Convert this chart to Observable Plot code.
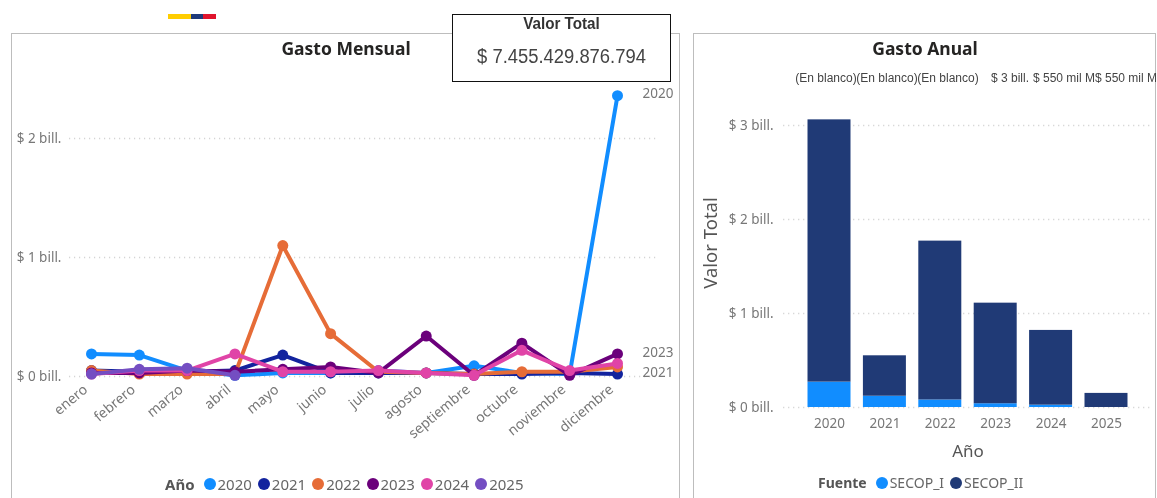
<!DOCTYPE html>
<html>
<head>
<meta charset="utf-8">
<script src="https://cdn.jsdelivr.net/npm/d3@7"></script>
<script src="https://cdn.jsdelivr.net/npm/@observablehq/plot@0.6"></script>
<style>
html,body{margin:0;padding:0;background:#fff;}
#page{position:relative;width:1157px;height:498px;overflow:hidden;font-family:"Noto Sans",sans-serif;color:#666;filter:blur(0.3px);}
#page svg{position:absolute;left:0;top:0;background:transparent;max-width:none;}
.abs{position:absolute;white-space:nowrap;}
.panel{position:absolute;border:1px solid #bdbdbd;box-sizing:border-box;}
.title{position:absolute;font-weight:700;font-size:17.5px;color:#252423;transform:translateX(-50%);white-space:nowrap;line-height:22px;}
.dl{position:absolute;top:71px;font:12px/14px "Liberation Sans",Arial,sans-serif;color:#444;transform:translateX(-50%);white-space:nowrap;}
.legend{position:absolute;display:flex;align-items:center;font-size:15px;color:#666;white-space:nowrap;line-height:20px;}
.legend b{color:#555;margin-right:9px;}
.legend i{display:inline-block;width:12px;height:12px;border-radius:50%;margin-right:2px;}
.legend span{margin-right:6px;}
#card{position:absolute;left:452px;top:14px;width:219px;height:68px;box-sizing:border-box;border:1.5px solid #111;background:#fff;text-align:center;}
#card .h{font:700 16px/18px "Liberation Sans",Arial,sans-serif;color:#333;margin-top:0;transform:scaleX(.95);}
#card .v{font:20px/26px "Liberation Sans",Arial,sans-serif;color:#444;margin-top:10px;transform:scaleX(.92);}
</style>
</head>
<body>
<div id="page"></div>
<script>
const months = ["enero","febrero","marzo","abril","mayo","junio","julio","agosto","septiembre","octubre","noviembre","diciembre"];
const years = [2020,2021,2022,2023,2024,2025];
const yearColors = ["#118DFF","#12239E","#E66C37","#6B007B","#E044A7","#744EC2"];
const gasto2020 = [0.19,0.18,0.05,0.01,0.03,0.03,0.05,0.03,0.09,0.03,0.02,2.36];
const gasto2021 = [0.05,0.04,0.04,0.05,0.18,0.03,0.03,0.03,0.02,0.02,0.03,0.02];
const gasto2022 = [0.05,0.02,0.02,0.02,1.10,0.36,0.04,0.03,0.02,0.04,0.04,0.08];
const gasto2023 = [0.03,0.03,0.05,0.04,0.06,0.08,0.03,0.34,0.01,0.28,0.01,0.19];
const gasto2024 = [0.02,0.05,0.05,0.19,0.04,0.04,0.05,0.03,0.01,0.22,0.05,0.11];
const gasto2025 = [0.02,0.06,0.07,0.01];
const gastoPorAnio = [gasto2020,gasto2021,gasto2022,gasto2023,gasto2024,gasto2025];
const endLabelYears = [2020,2021,2023];
const endLabelValues = [2.375,0.03,0.20];

const fuentes = ["SECOP_I","SECOP_II"];
const fuenteColors = ["#118DFF","#203A76"];
const secopI  = [0.27,0.12,0.08,0.04,0.025,0.0];
const secopII = [2.79,0.43,1.69,1.07,0.795,0.15];
const blancos = ["(En blanco)","(En blanco)","(En blanco)","$ 3 bill.","$ 550 mil M","$ 550 mil M"];
const billFmt = d => "$ " + d + " bill.";

const page = document.getElementById("page");
const gray = "#777";
const font = '"Noto Sans",sans-serif';

function add(html){const t=document.createElement("template");t.innerHTML=html.trim();const n=t.content.firstChild;page.appendChild(n);return n;}

add('<div class="panel" style="left:11px;top:33px;width:669px;height:480px"></div>');
add('<div class="panel" style="left:693px;top:33px;width:463px;height:480px"></div>');

// ---- Gasto Mensual
const lineRows = years.map((y,i)=>gastoPorAnio[i].map((v,j)=>({year:y,month:months[j],value:v})));
const endRows = endLabelYears.map((y,i)=>({year:y,month:months[11],value:endLabelValues[i]}));
const mensual = Plot.plot({
  width:680,height:498,marginLeft:91,marginRight:63,marginTop:78.5,marginBottom:122,
  style:{fontFamily:font,fontSize:"13.5px",color:gray,overflow:"visible"},
  x:{type:"point",domain:months,padding:0,round:false,label:null},
  y:{domain:[0,2.5],label:null},
  color:{domain:years,range:yearColors},
  marks:[
    Plot.ruleY([0,1,2],{stroke:"#d4d4d4",strokeWidth:1.4,strokeDasharray:"1.2,3.8",insetLeft:-22,insetRight:-40}),
    Plot.axisY({ticks:[0,1,2],tickFormat:billFmt,tickSize:0,tickPadding:30,fill:gray,fontSize:13.5,label:null}),
    Plot.axisX({tickSize:0,tickRotate:-40,tickPadding:11,dx:-6,fill:gray,fontSize:14,label:null}),
    ...lineRows.flatMap(rows=>[
      Plot.line(rows,{x:"month",y:"value",stroke:"year",strokeWidth:4,curve:"linear"}),
      Plot.dot(rows,{x:"month",y:"value",fill:"year",r:5.5})
    ]),
    Plot.text(endRows,{x:"month",y:"value",text:d=>String(d.year),dx:25,textAnchor:"start",fill:gray,fontSize:13.5})
  ]
});
page.appendChild(mensual);

// ---- Gasto Anual
const barRows = years.flatMap((y,i)=>[
  {year:y,fuente:fuentes[0],value:secopI[i]},
  {year:y,fuente:fuentes[1],value:secopII[i]}
]);
const anual = Plot.plot({
  width:464,height:498,marginLeft:102.1,marginRight:17.1,marginTop:78,marginBottom:91,
  style:{fontFamily:font,fontSize:"13.5px",color:gray,overflow:"visible"},
  x:{type:"band",domain:years,padding:0.224,round:false,label:null,tickFormat:d=>String(d)},
  y:{domain:[0,3.5],label:null},
  color:{domain:fuentes,range:fuenteColors},
  marks:[
    Plot.ruleY([0,1,2,3],{stroke:"#d4d4d4",strokeWidth:1.4,strokeDasharray:"1.2,3.8",insetLeft:-12,insetRight:-10}),
    Plot.barY(barRows,{x:"year",y:"value",fill:"fuente",order:fuentes}),
    Plot.axisY({ticks:[0,1,2,3],tickFormat:billFmt,tickSize:0,tickPadding:22,fill:gray,fontSize:13.5,label:null}),
    Plot.axisX({tickSize:0,tickPadding:11,fill:gray,fontSize:13.5,label:null,tickFormat:d=>String(d)})
  ]
});
anual.style.left="693px";
page.appendChild(anual);

// ---- HTML text around the plots
add('<div style="position:absolute;left:168px;top:14px;width:23px;height:5px;background:#FFCD00"></div>');
add('<div style="position:absolute;left:191px;top:14px;width:12px;height:5px;background:#1F3A7A"></div>');
add('<div style="position:absolute;left:203px;top:14px;width:13px;height:5px;background:#E0142D"></div>');
add('<div class="title" style="left:346px;top:37px">Gasto Mensual</div>');
add('<div class="title" style="left:925px;top:37px">Gasto Anual</div>');
add('<div id="card"><div class="h">Valor Total</div><div class="v">$ 7.455.429.876.794</div></div>');
[826,887,948,1010,1064,1126].forEach((x,i)=>add(`<div class="dl" style="left:${x}px">${blancos[i]}</div>`));
add('<div class="abs" style="left:968px;top:440px;transform:translateX(-50%);font-size:17px;line-height:22px;color:#555">Año</div>');
add('<div class="abs" style="left:710px;top:243px;transform:translate(-50%,-50%) rotate(-90deg);font-size:18.5px;line-height:22px;color:#555">Valor Total</div>');
add('<div class="legend" style="left:165px;top:474px"><b>Año</b>'+years.map((y,i)=>`<i style="background:${yearColors[i]}"></i><span>${y}</span>`).join("")+'</div>');
add('<div class="legend" style="left:818px;top:473px;font-size:14px"><b>Fuente</b>'+fuentes.map((f,i)=>`<i style="background:${fuenteColors[i]}"></i><span>${f}</span>`).join("")+'</div>');
</script>
</body>
</html>
